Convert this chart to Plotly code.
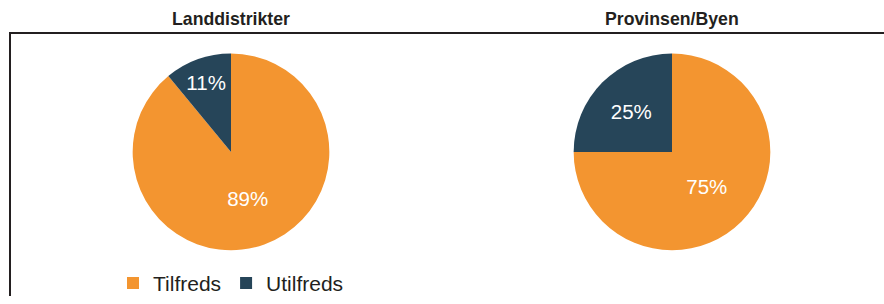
import plotly.graph_objects as go

W, H = 884, 304

labels = ["Tilfreds", "Utilfreds"]
land_values = [89, 11]
prov_values = [75, 25]
titles = ["Landdistrikter", "Provinsen/Byen"]
colors = ["#F39530", "#264559"]

FONT = "Liberation Sans, Arial, Helvetica, sans-serif"

def px_x(p):
    return p / W

def px_y(p):
    return (H - p) / H

fig = go.Figure()

R = 101
pies = [
    (land_values, 231, 156, "legend"),
    (prov_values, 672, 156, "legend2"),
]
for vals, cx, cy, lg in pies:
    fig.add_trace(go.Pie(
        labels=labels,
        values=vals,
        sort=False,
        direction="clockwise",
        rotation=0,
        marker=dict(colors=colors, line=dict(width=0)),
        texttemplate="%{percent:.0%}",
        textposition="inside",
        insidetextorientation="horizontal",
        textfont=dict(color="white", size=20.5, family=FONT),
        hoverinfo="label+percent",
        domain=dict(x=[px_x(cx - R), px_x(cx + R)], y=[px_y(cy + R), px_y(cy - R)]),
        legend=lg,
        showlegend=True,
    ))

legend_common = dict(
    orientation="h",
    xanchor="center",
    yanchor="middle",
    y=px_y(291),
    font=dict(size=21, family=FONT, color="#231F20"),
    bgcolor="rgba(0,0,0,0)",
    itemwidth=30,
    tracegroupgap=0,
)

fig.update_layout(
    width=W,
    height=H,
    margin=dict(l=0, r=0, t=0, b=0),
    paper_bgcolor="white",
    plot_bgcolor="white",
    font=dict(family=FONT, color="#231F20"),
    legend=dict(x=px_x(231), **legend_common),
    legend2=dict(x=px_x(672), **legend_common),
    annotations=[
        dict(text="<b>" + titles[0] + "</b>", x=px_x(231), y=px_y(20), xref="paper", yref="paper",
             showarrow=False, xanchor="center", yanchor="middle",
             font=dict(size=17.7, family=FONT, color="#231F20")),
        dict(text="<b>" + titles[1] + "</b>", x=px_x(672), y=px_y(20), xref="paper", yref="paper",
             showarrow=False, xanchor="center", yanchor="middle",
             font=dict(size=17.7, family=FONT, color="#231F20")),
    ],
    shapes=[
        dict(type="line", xref="paper", yref="paper", x0=px_x(9), x1=1.0, y0=px_y(34), y1=px_y(34),
             line=dict(color="#231F20", width=2)),
        dict(type="line", xref="paper", yref="paper", x0=px_x(10), x1=px_x(10), y0=px_y(33), y1=0,
             line=dict(color="#231F20", width=2)),
    ],
)

fig.write_html(
    "out.html",
    config={"displayModeBar": False},
    post_script="document.body.style.margin='0';document.body.style.overflow='hidden';",
)
